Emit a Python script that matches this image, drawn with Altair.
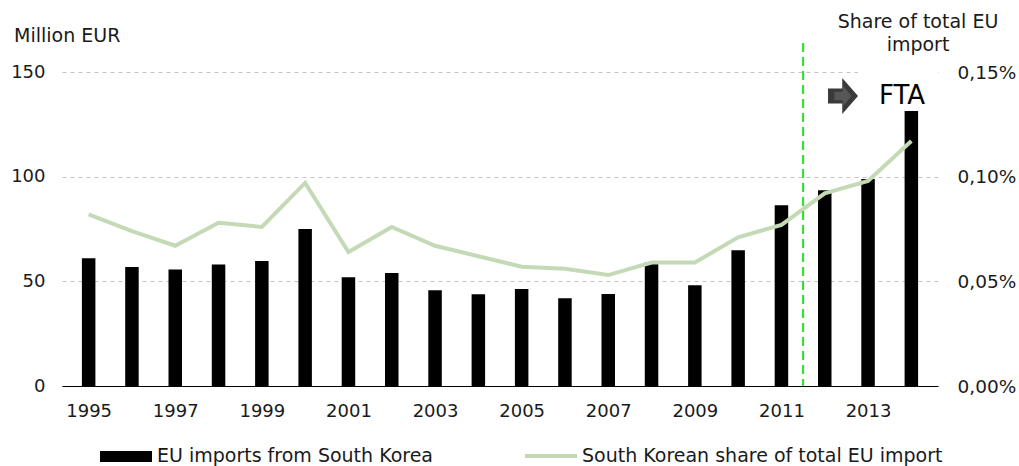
import altair as alt
import pandas as pd

# EU imports from South Korea (million EUR) and South Korea's share of total EU imports (%)
years = list(range(1995, 2015))
imports_meur = [61.0, 56.9, 55.7, 58.1, 59.7, 75.0, 51.9, 54.0, 45.7, 43.8,
                46.3, 41.9, 44.0, 59.1, 48.1, 64.8, 86.3, 93.5, 98.9, 131.4]
share_pct = [0.082, 0.074, 0.067, 0.078, 0.076, 0.097, 0.064, 0.076, 0.067, 0.062,
             0.057, 0.056, 0.053, 0.059, 0.059, 0.071, 0.077, 0.092, 0.098, 0.117]

left_ticks = [0, 50, 100, 150]
right_ticks = [0.0, 0.05, 0.10, 0.15]
year_ticks = list(range(1995, 2014, 2))
fta_year = [2011.5]

bar_label = "EU imports from South Korea"
line_label = "South Korean share of total EU import"
left_title = "Million EUR"
right_title = ["Share of total EU", "import"]
fta_label = "FTA"

FONT = "DejaVu Sans"
W, H = 876, 314
LINE_GREEN = "#c4dab6"
TEXT = "#1a1a1a"

df = pd.DataFrame({"year": years, "imports": imports_meur, "share": share_pct})

x_enc = alt.X(
    "year:Q",
    scale=alt.Scale(domain=[1994.5, 2014.5], nice=False, zero=False),
    axis=alt.Axis(values=year_ticks, format="d", title=None, ticks=False,
                  labelPadding=16, domainColor="#000000", domainWidth=1.2,
                  grid=False, labelFontSize=18, labelColor=TEXT),
)

bars = alt.Chart(df).mark_bar(size=13.5, color="#000000").encode(
    x=x_enc,
    y=alt.Y("imports:Q",
            scale=alt.Scale(domain=[0, 150], nice=False),
            axis=alt.Axis(values=left_ticks, title=None, domain=False, ticks=False,
                          labelPadding=17, grid=True, gridDash=[4, 4],
                          gridColor="#c4c4c4", gridWidth=1,
                          labelFontSize=18, labelColor=TEXT)),
)

# white patch interrupting the top gridline behind the FTA annotation
mask = alt.Chart(pd.DataFrame({"k": [0]})).mark_rect(color="white").encode(
    x=alt.value(796), x2=alt.value(W), y=alt.value(-5), y2=alt.value(5)
)

line = alt.Chart(df).mark_line(color=LINE_GREEN, strokeWidth=4).encode(
    x=alt.X("year:Q"),
    y=alt.Y("share:Q",
            scale=alt.Scale(domain=[0, 0.15], nice=False),
            axis=alt.Axis(orient="right", values=right_ticks, title=None,
                          domain=False, ticks=False, grid=False, labelPadding=19,
                          labelFontSize=18.5, labelColor=TEXT,
                          labelExpr="replace(format(datum.value, '.2f'), '.', ',') + '%'")),
)

fta_rule = alt.Chart(pd.DataFrame({"year": fta_year})).mark_rule(
    color="#22e622", strokeWidth=2, strokeDash=[9, 5]
).encode(x=alt.X("year:Q"), y=alt.value(-29), y2=alt.value(H))

arrow_path = "M -1 -0.5 L -0.05 -0.5 L -0.05 -1.2 L 1 0 L -0.05 1.2 L -0.05 0.5 L -1 0.5 Z"
arrow = alt.Chart(pd.DataFrame({"k": [0]})).mark_point(
    shape=arrow_path, filled=True, color="#3a3a3a", size=900, opacity=1
).encode(x=alt.value(781), y=alt.value(24))
arrow_inner = alt.Chart(pd.DataFrame({"k": [0]})).mark_point(
    shape=arrow_path, filled=True, color="#575757", size=300, opacity=1
).encode(x=alt.value(781), y=alt.value(24))

fta_text = alt.Chart(pd.DataFrame({"t": [fta_label]})).mark_text(
    font=FONT, fontSize=26, align="left", baseline="middle", color="#000000"
).encode(x=alt.value(817), y=alt.value(24), text="t:N")

left_title_mark = alt.Chart(pd.DataFrame({"t": [left_title]})).mark_text(
    font=FONT, fontSize=19, align="left", baseline="middle", color=TEXT
).encode(x=alt.value(-48), y=alt.value(-36), text="t:N")

right_title_mark = alt.Chart(pd.DataFrame({"t": right_title, "dy": [-50, -27]})).mark_text(
    font=FONT, fontSize=19, align="center", baseline="middle", color=TEXT
).encode(x=alt.value(856), y=alt.Y("dy:Q", scale=None), text="t:N")

# legend along the bottom
leg_rect = alt.Chart(pd.DataFrame({"k": [0]})).mark_rect(color="#000000").encode(
    x=alt.value(38), x2=alt.value(90), y=alt.value(379), y2=alt.value(390)
)
leg_line = alt.Chart(pd.DataFrame({"k": [0]})).mark_rule(color=LINE_GREEN, strokeWidth=4).encode(
    x=alt.value(463), x2=alt.value(515), y=alt.value(384)
)
leg_text = alt.Chart(pd.DataFrame({"t": [bar_label, line_label], "px": [95, 520]})).mark_text(
    font=FONT, fontSize=19, align="left", baseline="middle", color=TEXT
).encode(x=alt.X("px:Q", scale=None), y=alt.value(384), text="t:N")

chart = alt.layer(
    bars, mask, line, fta_rule, arrow, arrow_inner, fta_text,
    left_title_mark, right_title_mark, leg_rect, leg_line, leg_text,
).resolve_scale(y="independent").properties(
    width=W, height=H,
    autosize=alt.AutoSizeParams(type="none"),
    padding={"left": 62, "top": 72, "right": 81, "bottom": 80},
).configure(
    font=FONT,
).configure_view(stroke=None)

chart.save("out.html", embed_options={"renderer": "svg", "actions": False})
